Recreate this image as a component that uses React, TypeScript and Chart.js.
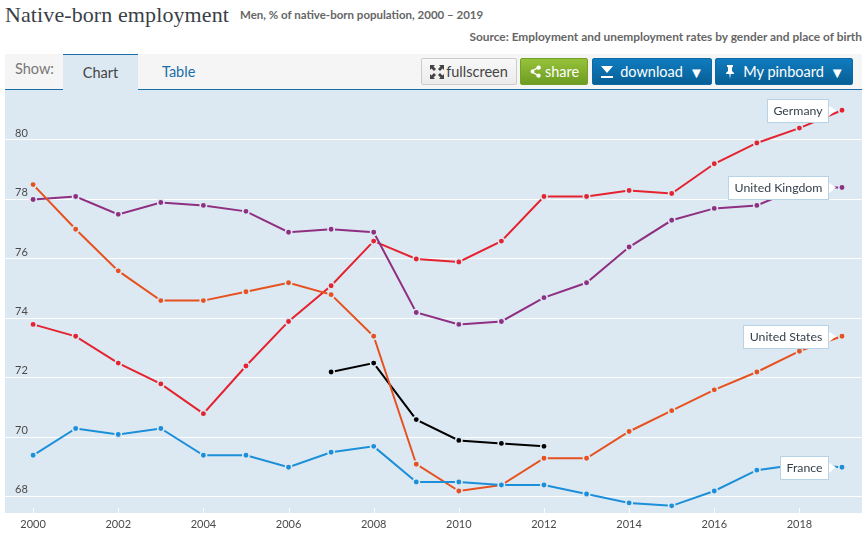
import React, { useEffect, useRef } from "react";
import { Chart, registerables } from "chart.js";

Chart.register(...registerables);

const years = [2000, 2001, 2002, 2003, 2004, 2005, 2006, 2007, 2008, 2009, 2010, 2011, 2012, 2013, 2014, 2015, 2016, 2017, 2018, 2019];
const germany = [73.8, 73.4, 72.5, 71.8, 70.8, 72.4, 73.9, 75.1, 76.6, 76.0, 75.9, 76.6, 78.1, 78.1, 78.3, 78.2, 79.2, 79.9, 80.4, 81.0];
const unitedKingdom = [78.0, 78.1, 77.5, 77.9, 77.8, 77.6, 76.9, 77.0, 76.9, 74.2, 73.8, 73.9, 74.7, 75.2, 76.4, 77.3, 77.7, 77.8, 78.4, 78.4];
const unitedStates = [78.5, 77.0, 75.6, 74.6, 74.6, 74.9, 75.2, 74.8, 73.4, 69.1, 68.2, 68.4, 69.3, 69.3, 70.2, 70.9, 71.6, 72.2, 72.9, 73.4];
const france = [69.4, 70.3, 70.1, 70.3, 69.4, 69.4, 69.0, 69.5, 69.7, 68.5, 68.5, 68.4, 68.4, 68.1, 67.8, 67.7, 68.2, 68.9, 69.1, 69.0];
const highlightYears = [2007, 2008, 2009, 2010, 2011, 2012];
const highlight = [72.2, 72.5, 70.6, 69.9, 69.8, 69.7];
const xTicks = [2000, 2002, 2004, 2006, 2008, 2010, 2012, 2014, 2016, 2018];
const yTicks = [68, 70, 72, 74, 76, 78, 80];

const UI = "Lato, 'Open Sans', sans-serif";
const BG = "#dde9f2";

const toPts = (xs: number[], ys: number[]) => xs.map((x, i) => ({ x, y: ys[i] }));

const series = (label: string, data: { x: number; y: number }[], color: string, callout: boolean) => ({
  label,
  data,
  borderColor: color,
  backgroundColor: color,
  borderWidth: 2,
  pointRadius: 3.2,
  pointBorderWidth: 1.5,
  pointBorderColor: BG,
  pointBackgroundColor: color,
  tension: 0,
  callout,
});

const chromePlugin = {
  id: "chrome",
  beforeDraw(chart: any) {
    const { ctx, chartArea: a } = chart;
    ctx.save();
    ctx.fillStyle = BG;
    ctx.fillRect(a.left, a.top, a.right - a.left, a.bottom - a.top);
    ctx.restore();
  },
  beforeDatasetsDraw(chart: any) {
    const { ctx, chartArea: a, scales } = chart;
    ctx.save();
    ctx.fillStyle = "#ffffff";
    xTicks.forEach((v) => {
      const x = Math.round(scales.x.getPixelForValue(v));
      ctx.fillRect(x, a.bottom - 5, 1, 5);
    });
    ctx.restore();
  },
  afterDatasetsDraw(chart: any) {
    const { ctx, data } = chart;
    ctx.save();
    ctx.font = `12.3px ${UI}`;
    data.datasets.forEach((ds: any, i: number) => {
      if (!ds.callout) return;
      const el = chart.getDatasetMeta(i).data[ds.data.length - 1];
      const h = 23;
      const w = Math.round(ctx.measureText(ds.label).width) + 12;
      const right = Math.round(el.x - 14) + 0.5;
      const left = right - w;
      const top = Math.round(el.y - h / 2) + 0.5;
      ctx.beginPath();
      ctx.moveTo(right, top + 6);
      ctx.lineTo(el.x - 6, el.y);
      ctx.lineTo(right, top + h - 6);
      ctx.closePath();
      ctx.fillStyle = "#ffffff";
      ctx.fill();
      ctx.strokeStyle = "#b8d3e6";
      ctx.lineWidth = 1;
      ctx.fillRect(left, top, w, h);
      ctx.strokeRect(left, top, w, h);
      ctx.fillStyle = "#333f4a";
      ctx.textAlign = "center";
      ctx.textBaseline = "middle";
      ctx.fillText(ds.label, left + w / 2, top + h / 2);
    });
    ctx.restore();
  },
};

const Icon = ({ d, size = 14 }: { d: string; size?: number }) => (
  <svg width={size} height={size} viewBox="0 0 14 14" style={{ flex: "none" }}>
    <path d={d} fill="currentColor" />
  </svg>
);

const box = (left: number, width: number, extra: React.CSSProperties): React.CSSProperties => ({
  position: "absolute",
  left,
  top: 58,
  width,
  height: 27,
  boxSizing: "border-box",
  borderRadius: 2,
  display: "flex",
  alignItems: "center",
  justifyContent: "center",
  fontFamily: UI,
  fontSize: 14.5,
  whiteSpace: "nowrap",
  ...extra,
});

const blueBtn = { background: "linear-gradient(#0f7cbf,#075f96)", color: "#fff", border: "1px solid #0b6aa5", gap: 6 };

export default function App() {
  const ref = useRef<HTMLCanvasElement>(null);
  useEffect(() => {
    const chart = new Chart(ref.current!, {
      type: "line",
      data: {
        datasets: [
          series("France", toPts(years, france), "#1b8fd9", true),
          series("United States", toPts(years, unitedStates), "#e6511f", true),
          series("United Kingdom", toPts(years, unitedKingdom), "#8f2f81", true),
          series("Germany", toPts(years, germany), "#e5222f", true),
          series("Highlighted", toPts(highlightYears, highlight), "#000000", false),
        ] as any,
      },
      options: {
        animation: false,
        responsive: false,
        layout: { autoPadding: false, padding: { left: 5, right: 5, top: 0, bottom: 0 } },
        plugins: { legend: { display: false }, tooltip: { enabled: false } },
        scales: {
          x: {
            type: "linear",
            min: 1999.34,
            max: 2019.47,
            afterBuildTicks: (s: any) => { s.ticks = xTicks.map((value) => ({ value })); },
            afterFit: (s: any) => { s.height = 23; s.paddingLeft = 0; s.paddingRight = 0; },
            grid: { display: false, drawTicks: false },
            border: { display: false },
            ticks: {
              autoSkip: false,
              maxRotation: 0,
              padding: 5,
              color: "#4a4a4a",
              font: { family: UI, size: 11 },
              callback: (v: any) => String(v),
            },
          },
          y: {
            type: "linear",
            min: 67.46,
            max: 81.68,
            afterBuildTicks: (s: any) => { s.ticks = yTicks.map((value) => ({ value })); },
            afterFit: (s: any) => { s.width = 0; s.paddingTop = 0; s.paddingBottom = 0; },
            grid: { color: "#ffffff", lineWidth: 1, drawTicks: false },
            border: { display: false },
            ticks: {
              mirror: true,
              padding: 10,
              labelOffset: -7,
              color: "#4a4a4a",
              font: { family: UI, size: 11 },
              callback: (v: any) => String(v),
            },
          },
        },
      },
      plugins: [chromePlugin],
    } as any);
    return () => chart.destroy();
  }, []);

  return (
    <div style={{ position: "absolute", left: 0, top: 0, width: 867, height: 536, overflow: "hidden", background: "#fff", fontFamily: UI }}>
      <div style={{ position: "absolute", left: 5, top: 2, fontFamily: "'Liberation Serif', serif", fontSize: 22, letterSpacing: 0.1, color: "#3a3f47", whiteSpace: "nowrap" }}>
        Native-born employment
      </div>
      <div style={{ position: "absolute", left: 240, top: 8, fontSize: 11.5, fontWeight: 700, color: "#666", whiteSpace: "nowrap" }}>
        Men, % of native-born population, 2000 – 2019
      </div>
      <div style={{ position: "absolute", right: 5, top: 29, fontSize: 11.9, fontWeight: 700, color: "#666", whiteSpace: "nowrap" }}>
        Source: Employment and unemployment rates by gender and place of birth
      </div>

      <div style={{ position: "absolute", left: 5, top: 54, width: 857, height: 35, background: "#f5f5f5", borderBottom: "1px solid #1a6ea8" }} />
      <div style={{ position: "absolute", left: 15, top: 60, fontSize: 14.5, color: "#777" }}>Show:</div>
      <div style={{ position: "absolute", left: 63, top: 54, width: 75, height: 36, boxSizing: "border-box", background: BG, borderTop: "1px solid #1a6ea8", fontSize: 14.5, color: "#444", textAlign: "center", paddingTop: 9 }}>Chart</div>
      <div style={{ position: "absolute", left: 162, top: 63, fontSize: 14.5, color: "#1a6ea8" }}>Table</div>

      <div style={box(421, 96, { background: "linear-gradient(#f8f8f8,#ececec)", border: "1px solid #ccc", color: "#444", gap: 2 })}>
        <Icon d="M0 0h5L3.500 1.500 6 4 4 6 1.500 3.500 0 5zM14 0v5l-1.500-1.500L10 6 8 4l2.500-2.500L9 0zM0 14V9l1.500 1.500L4 8l2 2-2.500 2.500L5 14zM14 14H9l1.500-1.500L8 10l2-2 2.500 2.500L14 9z" />
        <span>fullscreen</span>
      </div>
      <div style={box(520, 68, { background: "linear-gradient(#96c23a,#6e9c22)", border: "1px solid #74a028", color: "#fff", gap: 3 })}>
        <Icon size={13} d="M10.500 0.500a2.300 2.300 0 1 1-1.800 3.700L5.500 6a2.300 2.300 0 0 1 0 2l3.200 1.800a2.300 2.300 0 1 1-.7 1.200L4.700 9.200a2.300 2.300 0 1 1 0-4.400L8 3a2.300 2.300 0 0 1 2.500-2.500z" />
        <span>share</span>
      </div>
      <div style={box(592, 120, blueBtn)}>
        <Icon d="M1 1h12L7 8zM1 11h12v2H1z" />
        <span>download</span>
        <span style={{ fontSize: 15 }}>▼</span>
      </div>
      <div style={box(715, 138, blueBtn)}>
        <Icon d="M4 0h6v1.500L9 2.500V6l2 2v1H7.700L7 14l-.7-5H3V8l2-2V2.500L4 1.500z" />
        <span>My pinboard</span>
        <span style={{ fontSize: 15 }}>▼</span>
      </div>

      <canvas ref={ref} width={867} height={446} style={{ position: "absolute", left: 0, top: 90, width: 867, height: 446 }} />
    </div>
  );
}
